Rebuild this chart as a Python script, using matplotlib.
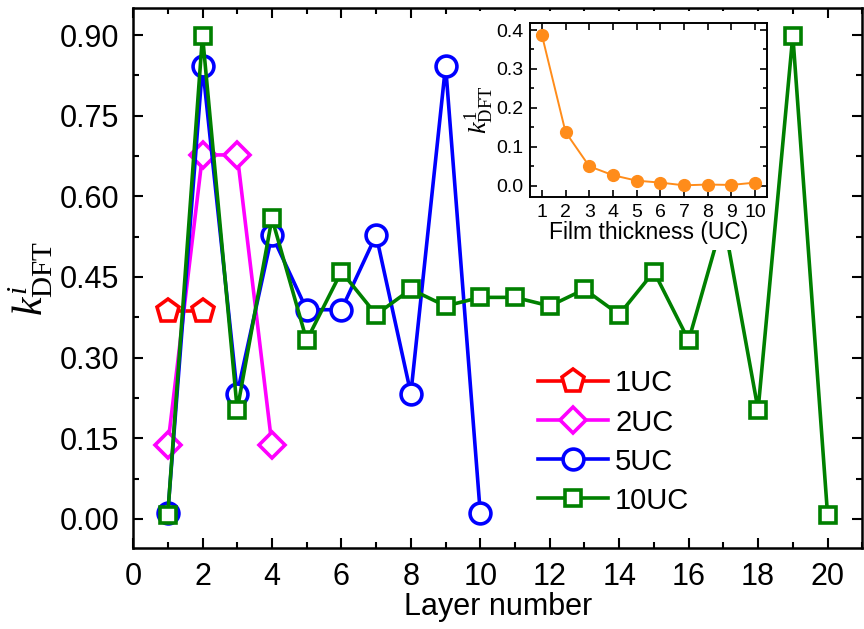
import matplotlib
matplotlib.use('Agg')
import matplotlib.pyplot as plt
from matplotlib.patches import Rectangle
from matplotlib.ticker import MultipleLocator

plt.rcParams['font.family'] = ['Liberation Sans', 'DejaVu Sans']
plt.rcParams['mathtext.fontset'] = 'custom'
plt.rcParams['mathtext.rm'] = 'Liberation Serif'
plt.rcParams['mathtext.it'] = 'Liberation Serif:italic'

# layer-resolved values
layers_1uc = [1, 2]
k_1uc = [0.387, 0.387]
layers_2uc = [1, 2, 3, 4]
k_2uc = [0.137, 0.677, 0.677, 0.137]
layers_5uc = [1, 2, 3, 4, 5, 6, 7, 8, 9, 10]
k_5uc = [0.010, 0.843, 0.233, 0.528, 0.389, 0.389, 0.528, 0.233, 0.843, 0.010]
layers_10uc = list(range(1, 21))
k_10uc = [0.008, 0.899, 0.203, 0.559, 0.332, 0.460, 0.380, 0.427, 0.396, 0.412,
          0.412, 0.396, 0.427, 0.380, 0.460, 0.332, 0.559, 0.203, 0.899, 0.008]

# inset: surface value vs film thickness
thickness = [1, 2, 3, 4, 5, 6, 7, 8, 9, 10]
k_surface = [0.388, 0.138, 0.050, 0.027, 0.013, 0.008, 0.001, 0.003, 0.002, 0.008]

series = [
    (layers_1uc, k_1uc, '1UC', 'red', 'p'),
    (layers_2uc, k_2uc, '2UC', 'magenta', 'D'),
    (layers_5uc, k_5uc, '5UC', 'blue', 'o'),
    (layers_10uc, k_10uc, '10UC', 'green', 's'),
]
marker_size = {'p': 17, 'D': 13, 'o': 15, 's': 11.5}

fig = plt.figure(figsize=(8.64, 6.29), dpi=100)
ax = fig.add_axes([0.154, 0.129, 0.844, 0.858])

for x, y, label, color, marker in series:
    ax.plot(x, y, color=color, lw=2.6, marker=marker, ms=marker_size[marker],
            mfc='white', mec=color, mew=2.6, label=label)

ax.set_xlim(0, 21)
ax.set_ylim(-0.054, 0.95)
ax.xaxis.set_major_locator(MultipleLocator(2))
ax.xaxis.set_minor_locator(MultipleLocator(1))
ax.set_yticks([0.0, 0.15, 0.30, 0.45, 0.60, 0.75, 0.90])
ax.set_yticklabels(['0.00', '0.15', '0.30', '0.45', '0.60', '0.75', '0.90'])
ax.yaxis.set_minor_locator(MultipleLocator(0.075))
ax.tick_params(which='both', direction='in', top=True, right=True, width=1.5,
               labelsize=22, pad=10)
ax.tick_params(which='major', length=7)
ax.tick_params(which='minor', length=4)
for s in ax.spines.values():
    s.set_linewidth(1.8)
ax.set_xlabel('Layer number', fontsize=22, labelpad=0)
ax.set_ylabel(r'$k^{i}_{\mathrm{DFT}}$', fontsize=30, labelpad=3)

ax.legend(loc='center left', bbox_to_anchor=(0.535, 0.196), frameon=False,
          fontsize=21, handlelength=2.4, handletextpad=0.25, labelspacing=0.38,
          borderpad=0)

# white area behind the inset and its labels
ax.add_patch(Rectangle((0.538, 0.603), 0.352, 0.38, transform=fig.transFigure,
                       facecolor='white', edgecolor='none', zorder=10,
                       clip_on=False))

ins = fig.add_axes([0.6134, 0.6868, 0.2743, 0.2766])
ins.plot(thickness, k_surface, color='#FF8C1A', lw=1.4, marker='o', ms=8.5)
ins.set_xlim(0.5, 10.5)
ins.set_ylim(-0.029, 0.418)
ins.set_xticks(thickness)
ins.yaxis.set_major_locator(MultipleLocator(0.1))
ins.yaxis.set_minor_locator(MultipleLocator(0.05))
ins.tick_params(which='both', direction='in', top=True, right=True, width=1.2,
                labelsize=14, pad=5)
ins.tick_params(which='major', length=5)
ins.tick_params(which='minor', length=3)
for s in ins.spines.values():
    s.set_linewidth(1.4)
ins.set_xlabel('Film thickness (UC)', fontsize=16.5, labelpad=0)
ins.set_ylabel(r'$k^{1}_{\mathrm{DFT}}$', fontsize=19, labelpad=0)

fig.savefig('out.png', dpi=100)
